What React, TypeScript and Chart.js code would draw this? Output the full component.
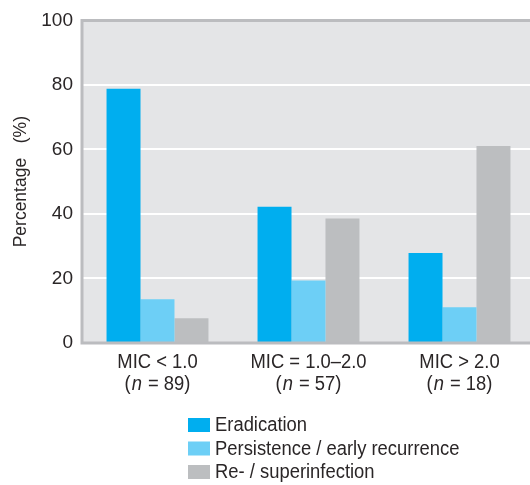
import React, { useEffect, useRef } from 'react';
import { Chart, registerables } from 'chart.js';

Chart.register(...registerables);

const categories = ['MIC < 1.0', 'MIC = 1.0–2.0', 'MIC > 2.0'];
const sampleSizes = ['89', '57', '18'];
const seriesNames = ['Eradication', 'Persistence / early recurrence', 'Re- / superinfection'];
const eradication = [78.8, 42.2, 27.9];
const persistence = [13.6, 19.4, 11.1];
const reinfection = [7.7, 38.6, 61.1];
const yTicks = [0, 20, 40, 60, 80, 100];
const yTitle = 'Percentage   (%)';

const seriesColors = ['#00aeef', '#6dcff6', '#bcbec0'];
const FONT = '"Liberation Sans", Arial, sans-serif';
const TEXT = '#2a2627';
const SQUEEZE = 0.92;

function drawSqueezed(ctx: CanvasRenderingContext2D, text: string, x: number, y: number, font: string) {
  ctx.save();
  ctx.font = font;
  ctx.translate(x, y);
  ctx.scale(SQUEEZE, 1);
  ctx.textAlign = 'left';
  ctx.textBaseline = 'middle';
  ctx.fillText(text, 0, 0);
  ctx.restore();
}

function widthSqueezed(ctx: CanvasRenderingContext2D, text: string, font: string) {
  ctx.save();
  ctx.font = font;
  const w = ctx.measureText(text).width * SQUEEZE;
  ctx.restore();
  return w;
}

const decorPlugin = {
  id: 'decor',
  beforeDraw(chart: any) {
    const { ctx, chartArea } = chart;
    ctx.save();
    ctx.fillStyle = '#e4e5e7';
    ctx.fillRect(chartArea.left, chartArea.top, chartArea.right - chartArea.left, chartArea.bottom - chartArea.top);
    ctx.restore();
  },
  afterDatasetsDraw(chart: any) {
    const { ctx, chartArea } = chart;
    ctx.save();
    ctx.strokeStyle = '#bbbcbf';
    ctx.lineWidth = 3;
    ctx.beginPath();
    ctx.moveTo(chartArea.right, chartArea.top);
    ctx.lineTo(chartArea.left, chartArea.top);
    ctx.lineTo(chartArea.left, chartArea.bottom);
    ctx.lineTo(chartArea.right, chartArea.bottom);
    ctx.stroke();
    ctx.restore();
  },
  afterDraw(chart: any) {
    const { ctx, chartArea } = chart;
    const xScale = chart.scales.x;
    const normal = `20px ${FONT}`;
    const italic = `italic 20px ${FONT}`;
    ctx.save();
    ctx.fillStyle = TEXT;
    categories.forEach((cat, i) => {
      const cx = xScale.getPixelForTick(i);
      const w1 = widthSqueezed(ctx, cat, normal);
      drawSqueezed(ctx, cat, cx - w1 / 2, chartArea.bottom + 19, normal);
      const partA = '(';
      const partB = 'n';
      const partC = ` = ${sampleSizes[i]})`;
      const wA = widthSqueezed(ctx, partA, normal) + 1;
      const wB = widthSqueezed(ctx, partB, italic) + 1;
      const wC = widthSqueezed(ctx, partC, normal);
      let x = cx - (wA + wB + wC) / 2;
      const y = chartArea.bottom + 41;
      drawSqueezed(ctx, partA, x, y, normal);
      x += wA;
      drawSqueezed(ctx, partB, x, y, italic);
      x += wB;
      drawSqueezed(ctx, partC, x, y, normal);
    });
    chart.data.datasets.forEach((ds: any, i: number) => {
      const cy = 425 + i * 23.5;
      ctx.fillStyle = ds.backgroundColor;
      ctx.fillRect(188, cy - 7, 22, 14);
      ctx.fillStyle = TEXT;
      drawSqueezed(ctx, ds.label, 215, cy + 0.5, normal);
    });
    ctx.restore();
  },
};

export default function App() {
  const ref = useRef<HTMLCanvasElement | null>(null);

  useEffect(() => {
    if (!ref.current) return;
    const chart = new Chart(ref.current, {
      type: 'bar',
      data: {
        labels: categories,
        datasets: [
          { label: seriesNames[0], data: eradication, backgroundColor: seriesColors[0] },
          { label: seriesNames[1], data: persistence, backgroundColor: seriesColors[1] },
          { label: seriesNames[2], data: reinfection, backgroundColor: seriesColors[2] },
        ],
      },
      options: {
        responsive: false,
        animation: false,
        events: [],
        layout: { padding: { top: 19, left: 0, right: 0, bottom: 0 } },
        datasets: { bar: { barPercentage: 1, categoryPercentage: 0.675, borderWidth: 0 } },
        plugins: {
          legend: { display: false },
          tooltip: { enabled: false },
          title: { display: false },
        },
        scales: {
          x: {
            grid: { display: false },
            border: { display: false },
            ticks: { display: false },
            afterFit: (scale: any) => {
              scale.height = 142;
            },
          },
          y: {
            min: 0,
            max: 100,
            afterBuildTicks: (scale: any) => {
              scale.ticks = yTicks.map((v) => ({ value: v }));
            },
            grid: { color: '#ffffff', lineWidth: 2, drawTicks: false },
            border: { display: false },
            title: {
              display: true,
              text: yTitle,
              color: TEXT,
              font: { family: FONT, size: 17.5 },
              padding: { top: 10.5, bottom: 0 },
            },
            ticks: {
              padding: 9,
              color: TEXT,
              font: { family: FONT, size: 19 },
            },
            afterFit: (scale: any) => {
              scale.width = 82;
            },
          },
        },
      },
      plugins: [decorPlugin],
    });
    return () => chart.destroy();
  }, []);

  return (
    <div style={{ position: 'absolute', left: 0, top: 0, width: 530, height: 485, overflow: 'hidden', background: '#fff' }}>
      <canvas ref={ref} width={535} height={485} style={{ display: 'block' }} />
    </div>
  );
}
